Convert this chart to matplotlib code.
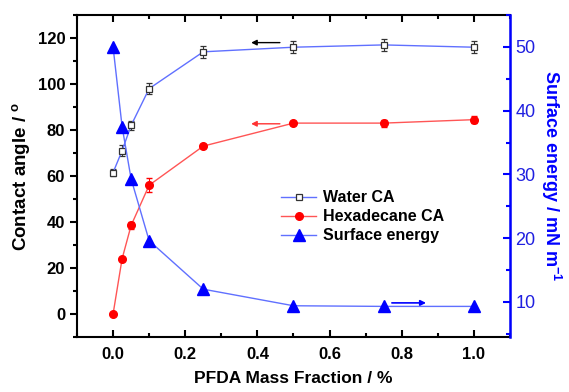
import matplotlib.pyplot as plt
from matplotlib.lines import Line2D
from matplotlib.ticker import MultipleLocator

plt.rcParams['font.family'] = ['Liberation Sans', 'DejaVu Sans']
plt.rcParams['mathtext.fontset'] = 'custom'
plt.rcParams['mathtext.rm'] = 'Liberation Sans:bold'
plt.rcParams['mathtext.bf'] = 'Liberation Sans:bold'

# PFDA mass fraction (%)
fraction = [0, 0.025, 0.05, 0.1, 0.25, 0.5, 0.75, 1.0]
water_ca = [61.5, 71, 82, 98, 114, 116, 117, 116]
water_err = [1.5, 2.5, 2, 2.5, 2.5, 2.5, 2.5, 2.5]
hexa_ca = [0, 24, 38.5, 56, 73, 83, 83, 84.5]
hexa_err = [0.5, 0.5, 1.5, 3, 1, 1, 1.5, 1.5]
surf_energy = [50, 37.5, 29.3, 19.6, 12.0, 9.4, 9.3, 9.3]

water_style = dict(color='#6070ff', lw=1, marker='s', ms=5, mfc='white',
                   mec='#333333', mew=0.9)
hexa_style = dict(color='#ff5555', lw=1, marker='o', ms=5.5, mfc='#ff0000', mec='#ff0000')
surf_style = dict(color='#6070ff', lw=1, marker='^', ms=8, mfc='#0000ff', mec='#0000ff')

fig = plt.figure(figsize=(5.69, 3.92), dpi=100)
ax = fig.add_axes([0.1353, 0.1403, 0.761, 0.8214])
ax2 = ax.twinx()

ax.errorbar(fraction, water_ca, yerr=water_err, ecolor='#333333', elinewidth=0.8,
            capsize=2.5, zorder=3, **water_style)
ax.errorbar(fraction, hexa_ca, yerr=hexa_err, ecolor='#ff0000', elinewidth=0.8,
            capsize=2.5, zorder=3, **hexa_style)
ax2.plot(fraction, surf_energy, **surf_style)

# direction arrows
ax.annotate('', xy=(0.375, 118), xytext=(0.47, 118),
            arrowprops=dict(arrowstyle='-|>', color='black', lw=1, mutation_scale=8))
ax.annotate('', xy=(0.375, 82.7), xytext=(0.47, 82.7),
            arrowprops=dict(arrowstyle='-|>', color='#ff3333', lw=1, mutation_scale=8))
ax2.annotate('', xy=(0.875, 9.85), xytext=(0.765, 9.85),
             arrowprops=dict(arrowstyle='-|>', color='#0000ff', lw=1.2, mutation_scale=8))

ax.set_xlim(-0.1, 1.1)
ax.set_ylim(-10, 130)
ax2.set_ylim(4.5, 55)

ax.xaxis.set_major_locator(MultipleLocator(0.2))
ax.xaxis.set_minor_locator(MultipleLocator(0.1))
ax.yaxis.set_major_locator(MultipleLocator(20))
ax.yaxis.set_minor_locator(MultipleLocator(10))
ax2.yaxis.set_major_locator(MultipleLocator(10))
ax2.yaxis.set_minor_locator(MultipleLocator(5))

ax.tick_params(axis='x', which='both', direction='in', top=True, width=1.5,
               labelsize=12, pad=7)
ax.tick_params(axis='x', which='major', length=5)
ax.tick_params(axis='x', which='minor', length=3)
ax.tick_params(axis='y', which='both', direction='out', width=1.5, labelsize=12)
ax.tick_params(axis='y', which='major', length=5)
ax.tick_params(axis='y', which='minor', length=3)
for lbl in ax.get_xticklabels() + ax.get_yticklabels():
    lbl.set_fontweight('bold')

ax2.tick_params(axis='y', which='both', direction='in', colors='#0000ff',
                width=1.5, labelsize=13, labelcolor='#2020e0', pad=4)
ax2.tick_params(axis='y', which='major', length=5)
ax2.tick_params(axis='y', which='minor', length=3)

for s in ['left', 'bottom', 'top']:
    ax.spines[s].set_linewidth(1.5)
ax2.spines['right'].set_color('#0000ff')
ax2.spines['right'].set_linewidth(1.8)
ax2.spines['left'].set_visible(False)
ax2.spines['top'].set_visible(False)
ax2.spines['bottom'].set_visible(False)

ax.set_xlabel('PFDA Mass Fraction / %', fontsize=12.5, fontweight='bold', labelpad=7)
ax.set_ylabel('Contact angle / $^{\\mathrm{o}}$', fontsize=13.5, fontweight='bold', labelpad=3)
ax2.set_ylabel('Surface energy / mN m$^{\\mathrm{-1}}$', fontsize=13, fontweight='bold',
               color='#0000ff', rotation=270, labelpad=20)

handles = [Line2D([], [], **water_style), Line2D([], [], **hexa_style),
           Line2D([], [], **surf_style)]
labels = ['Water CA', 'Hexadecane CA', 'Surface energy']
ax.legend(handles, labels, loc='upper left', bbox_to_anchor=(0.438, 0.50),
          frameon=False, prop={'weight': 'bold', 'size': 11.5},
          handlelength=2.2, handletextpad=0.4, labelspacing=0.25)

fig.savefig('out.png', dpi=100)
